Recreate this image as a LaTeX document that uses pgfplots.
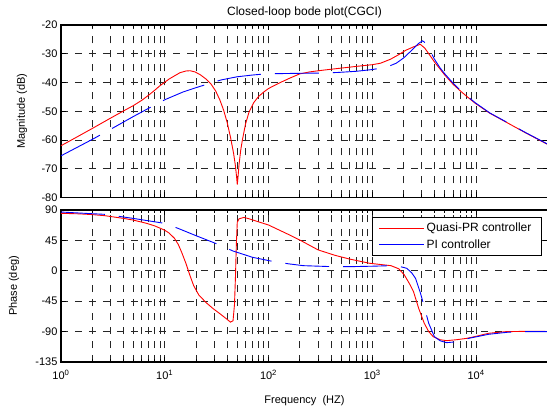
\documentclass[border=0pt]{standalone}
\usepackage{pgfplots}
\pgfplotsset{compat=1.18}
\usepackage{fontspec}
\setmainfont{Liberation Sans}
\begin{document}
\begin{tikzpicture}
\begin{axis}[scale only axis, width=487pt, xmode=log, xmin=1, xmax=49400,
  xtick={1,10,100,1000,10000},
  xmajorgrids, xminorgrids, ymajorgrids,
  major grid style={black!85, line width=0.65pt, dash pattern=on 7pt off 7pt},
  minor grid style={black!85, line width=0.65pt, dash pattern=on 7pt off 7pt},
  axis line style={line width=1.3pt},
  tick style={black, line width=0.7pt},
  major tick length=5pt, minor tick length=3pt,
  tick label style={font=\fontsize{11}{12}\selectfont},
  label style={font=\fontsize{11}{13}\selectfont},
  at={(61pt,-197.5pt)}, anchor=south west, height=172.5pt,
  ymin=-80, ymax=-20, ytick={-80,-70,-60,-50,-40,-30,-20},
  yticklabels={-80,-70,-60,-50,-40,-30,-20}, xticklabels={},
  title={Closed-loop bode plot(CGCI)},
  title style={at={(0.5,1)}, anchor=center, yshift=7pt, font=\fontsize{12}{13}\selectfont},
  ylabel={Magnitude (dB)}, ylabel style={at={(-0.080,0.5)}, anchor=center}]
\addplot[red, line width=0.9pt] coordinates {
(1,-62.0) (1.5,-58.5) (2,-56.0) (3,-52.4) (4,-49.9) (5,-48.0) (6,-46.2) (7,-44.4)
(8,-42.7) (9,-41.1) (10,-39.9) (11,-38.8) (12.4,-37.7) (14,-36.6) (16,-36.0)
(17.5,-35.9) (19.5,-36.3) (22,-37.3) (25,-38.8) (28,-40.6) (31,-43.0) (34,-46.1)
(37,-49.7) (40,-54.0) (43,-59.0) (46,-64.5) (48,-69.0) (49.3,-73) (50,-75.5)
(50.8,-73) (52,-68.5) (54,-63.5) (56,-60.0) (60,-54.5) (65,-50.2) (72,-47.0)
(80,-44.9) (90,-43.3) (100,-42.1) (110,-41.3) (130,-40.0) (160,-38.5) (200,-37.0)
(250,-36.3) (337,-35.7) (500,-35.0) (700,-34.4) (1000,-33.8) (1200,-33.3)
(1500,-31.9) (1800,-30.3) (2100,-28.8) (2500,-27.6) (2900,-26.7) (3200,-28.0)
(3600,-30.6) (4000,-33.0) (4500,-35.3) (5000,-37.4) (6000,-40.6) (7000,-42.8)
(8000,-44.6) (9800,-47.2) (13600,-50.7) (20000,-54.0) (30000,-57.5) (49400,-61.6)
};
\addplot[blue, line width=0.9pt, dash pattern=on 44pt off 14pt] coordinates {
(1,-65.5) (2,-59.8) (3,-56.3) (5,-51.8) (7.3,-48.6) (10,-46.0) (15,-43.3)
(20,-41.8) (25,-40.7) (35,-39.1) (50,-38.0) (70,-37.4) (93,-37.0) (130,-36.9)
(200,-36.8) (330,-36.7) (470,-36.5) (700,-36.1) (1000,-35.5) (1200,-35.0)
(1500,-34.1) (1700,-33.3) (2000,-31.5) (2400,-28.8) (2800,-26.4) (3050,-25.5)
(3250,-26.2) (3400,-27.2) (3650,-29.3) (3960,-31.8) (4500,-34.9) (5000,-37.0)
(6000,-40.2) (7000,-42.6) (8000,-44.4) (9800,-47.0) (13600,-50.6) (20000,-53.9)
(30000,-57.4) (49400,-61.5)
};
\end{axis}
\begin{axis}[scale only axis, width=487pt, xmode=log, xmin=1, xmax=49400,
  xtick={1,10,100,1000,10000},
  xmajorgrids, xminorgrids, ymajorgrids,
  major grid style={black!85, line width=0.65pt, dash pattern=on 7pt off 7pt},
  minor grid style={black!85, line width=0.65pt, dash pattern=on 7pt off 7pt},
  axis line style={line width=1.3pt},
  tick style={black, line width=0.7pt},
  major tick length=5pt, minor tick length=3pt,
  tick label style={font=\fontsize{11}{12}\selectfont},
  xticklabel style={yshift=-5pt},
  label style={font=\fontsize{11}{13}\selectfont},
  at={(61pt,-362pt)}, anchor=south west, height=152pt,
  ymin=-135, ymax=90, ytick={-135,-90,-45,0,45,90},
  yticklabels={-135,-90,-45,0,45,90},
  xticklabels={10\textsuperscript{0},10\textsuperscript{1},10\textsuperscript{2},10\textsuperscript{3},10\textsuperscript{4}},
  ylabel={Phase (deg)}, ylabel style={at={(-0.0965,0.5)}, anchor=center},
  xlabel={Frequency~~(HZ)}, xlabel style={at={(0.5,-0.255)}, anchor=center},
  legend style={at={(0.9877,0.954)}, anchor=north east, draw=black, line width=0.6pt,
    font=\fontsize{12}{13}\selectfont, inner xsep=7pt, inner ysep=4pt, row sep=2pt},
  legend cell align=left,
  legend image code/.code={\draw[#1,solid] (0pt,0pt)--(45pt,0pt);}]
\addplot[red, line width=0.9pt] coordinates {
(1,85.1) (1.5,84.3) (2,83.2) (2.64,81.6) (4,77.6) (5,75) (6.67,70.3) (8,66.5)
(9.9,60.4) (11,56) (12.4,48.1) (13.5,39) (14.5,28) (16,11) (17.5,-7) (19,-22)
(21.3,-35.8) (25,-47) (29,-55.5) (35,-65) (40,-72) (43,-76) (45.5,-74) (47,-50)
(48,-10) (49,40) (50,72) (52,77) (58,79) (65,77) (80,72.5) (100,67.8) (150,55)
(200,45.6) (300,31) (435,23) (600,17.5) (944,11.1) (1515,7.6) (1800,3) (2040,-6.2)
(2300,-20) (2500,-31) (2800,-55.5) (3170,-77.7) (3500,-90) (3870,-97.5) (4500,-102)
(5200,-103.4) (6500,-102) (8200,-99.9) (10000,-97) (13200,-92.5) (19300,-90.1)
(30000,-89.6) (49400,-89.8)
};
\addlegendentry{\makebox[106pt][l]{Quasi-PR controller}}
\addplot[blue, line width=0.9pt, dash pattern=on 44pt off 14pt] coordinates {
(1,87) (2,84.5) (2.64,83.6) (5,77.5) (9.9,70.3) (13.4,62.9) (20,52) (32.6,39.2)
(45.5,29.3) (70,20) (113,13.5) (160,10.1) (217,7.6) (420,6.1) (595,6.1) (1000,6.8)
(1515,7.6) (1800,6.8) (2150,3.7) (2400,-3) (2610,-11.1) (2900,-32) (3170,-53.1)
(3500,-77.7) (3970,-97.5) (4500,-103.5) (5200,-106.4) (6640,-104.9) (8500,-100)
(13200,-94) (20000,-91) (30000,-90) (49400,-90)
};
\addlegendentry{PI controller}
\end{axis}
\pgfresetboundingbox
\useasboundingbox (0pt,-409pt) rectangle (547pt,0pt);
\end{tikzpicture}
\end{document}
